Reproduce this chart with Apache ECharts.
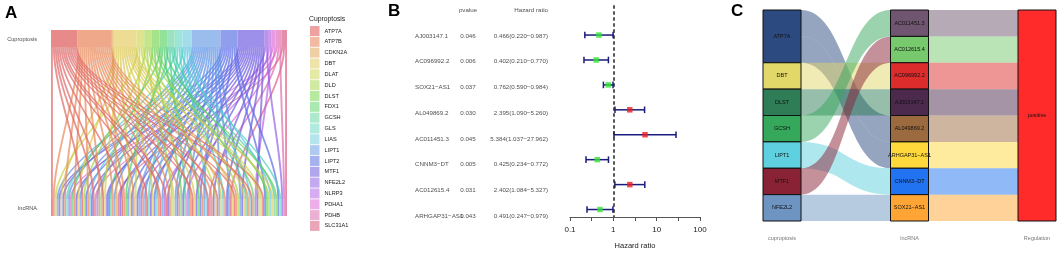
<!DOCTYPE html>
<html><head><meta charset="utf-8">
<script src="https://cdn.jsdelivr.net/npm/echarts@6/dist/echarts.min.js"></script>
<style>html,body{margin:0;padding:0;background:#fff}#c{width:1059px;height:255px}</style>
</head><body><div id="c"></div><script>
// ---------- Panel A data ----------
const cuproGenes = ['ATP7A','ATP7B','CDKN2A','DBT','DLAT','DLD','DLST','FDX1','GCSH','GLS','LIAS','LIPT1','LIPT2','MTF1','NFE2L2','NLRP3','PDHA1','PDHB','SLC31A1'];
const cuproColors = ['#E98A8A','#EFA98A','#EEC390','#ECDC94','#DDE48C','#C4E58A','#A5E38A','#93E29A','#9BE3C0','#9DE5D6','#A3DDE9','#9BBDED','#8F9FEC','#9C90EA','#B494EC','#CE97EC','#E79BE6','#E99CCB','#E58FA7'];
const cuproFlowColors = ['#E06666','#E8895A','#E0A85A','#DCC850','#C5D64A','#A0D64A','#6CD05A','#4ACC6A','#4ACCA0','#4AD0C0','#5AC4E0','#5A90E6','#5A6CE6','#6E5AE0','#9460E6','#B866E6','#E06ADC','#E06AB0','#DC6080'];
// cuproptosis partner of each lncRNA lode, left to right along the lncRNA axis
const lncRNAPartners = [
 'ATP7A','ATP7B','DLAT','LIPT1','MTF1','DBT','LIPT2','ATP7B','GLS','LIPT1','PDHA1','FDX1',
 'ATP7B','MTF1','DBT','LIPT1','ATP7A','DLD','LIPT2','ATP7B','LIAS','MTF1','ATP7A','PDHB',
 'LIPT1','ATP7B','DLST','ATP7A','DBT','MTF1','LIPT2','GCSH','ATP7B','LIPT1','CDKN2A','SLC31A1',
 'MTF1','ATP7A','ATP7B','FDX1','LIPT1','DBT','LIPT2','ATP7B','DLAT','MTF1','LIPT1','NFE2L2',
 'ATP7B','LIPT1','ATP7A','GLS','MTF1','DBT','LIPT2','LIAS','ATP7B','ATP7A','LIPT1','NLRP3',
 'ATP7A','MTF1','ATP7B','DLD','DBT','LIPT1','LIPT2','ATP7B','DLST','MTF1','GCSH','PDHA1',
 'LIPT1','ATP7B','ATP7A','DBT','MTF1','FDX1','LIPT2','ATP7B','LIPT1','LIAS','ATP7A','PDHB',
 'ATP7B','MTF1','DLAT','ATP7A','LIPT1','DBT','GLS','ATP7B','MTF1','LIPT1','SLC31A1','DBT',
 'ATP7A','ATP7B','DLD','LIPT1','MTF1','DBT','GCSH','ATP7B','LIAS','ATP7A','DLST','NLRP3',
 'MTF1','DBT','DLAT','ATP7A','LIPT2','FDX1','DLD','LIAS','DBT','GCSH','DLST','LIPT2','GLS','NFE2L2','PDHB','SLC31A1'
];

// ---------- Panel B data ----------
const forestGenes = ['AJ003147.1','AC096992.2','SOX21\u2212AS1','AL049869.2','AC011451.3','CNNM3\u2212DT','AC012615.4','ARHGAP31\u2212AS1'];
const pValues = ['0.046','0.006','0.037','0.030','0.045','0.005','0.031','0.043'];
const hazardRatio = [0.466,0.402,0.762,2.395,5.384,0.425,2.402,0.491];
const hrLower = [0.220,0.210,0.590,1.090,1.037,0.234,1.084,0.247];
const hrUpper = [0.987,0.770,0.984,5.260,27.962,0.772,5.327,0.979];

// ---------- Panel C data ----------
const sankeyCupro = ['ATP7A','DBT','DLST','GCSH','LIPT1','MTF1','NFE2L2'];
const sankeyCuproColors = ['#2C4A7F','#E2D86A','#2E7D57','#35A85C','#5FD0DF','#8A2235','#6E95C2'];
const sankeyLnc = ['AC011451.3','AC012615.4','AC096992.2','AJ003147.1','AL049869.2','ARHGAP31\u2212AS1','CNNM3\u2212DT','SOX21\u2212AS1'];
const sankeyLncColors = ['#6F5570','#78C96D','#DD2C2C','#4B2A4E','#9B6B3F','#FFD83B','#2173F2','#FFA535'];
const sankeyPairs = [['ATP7A','AL049869.2'],['ATP7A','ARHGAP31\u2212AS1'],['DBT','AC096992.2'],['DLST','AJ003147.1'],['GCSH','AC011451.3'],['LIPT1','CNNM3\u2212DT'],['MTF1','AC012615.4'],['NFE2L2','SOX21\u2212AS1']];
const regulation = ['positive'];
const regulationColors = ['#FF2B2B'];

// ---------- build ----------
const FONT = 'Liberation Sans, Arial, Helvetica, sans-serif';
const colorOf = {}, flowColorOf = {};
cuproGenes.forEach((g,i)=>{colorOf[g]=cuproColors[i]; flowColorOf[g]=cuproFlowColors[i];});

const aNodes = cuproGenes.map((g,i)=>({name:g, itemStyle:{color:cuproColors[i]}}))
  .concat(lncRNAPartners.map((g,i)=>({name:'lncRNA '+(i+1), itemStyle:{color:colorOf[g]}})));
const aLinks = lncRNAPartners.map((g,i)=>({source:g, target:'lncRNA '+(i+1), value:1, lineStyle:{color:flowColorOf[g]}}));

const cNodes = sankeyCupro.map((g,i)=>({name:g, itemStyle:{color:sankeyCuproColors[i]}}))
  .concat(sankeyLnc.map((g,i)=>({name:g, itemStyle:{color:sankeyLncColors[i]}})))
  .concat(regulation.map((g,i)=>({name:g, itemStyle:{color:regulationColors[i]}})));
const cLinks = sankeyPairs.map(p=>({source:p[0], target:p[1], value:1}))
  .concat(sankeyLnc.map(l=>({source:l, target:regulation[0], value:1})));

const TXT = 6.2;
const COL_NAME = 15, COL_P = 68, COL_HR = 148;
const fmt = v => v.toFixed(3);
const hrText = hazardRatio.map((v,i)=>fmt(v)+'('+fmt(hrLower[i])+'\u2212'+fmt(hrUpper[i])+')');

function textSeries(points, align){
  return {type:'scatter', xAxisIndex:2, yAxisIndex:1, symbolSize:0.1, itemStyle:{color:'transparent'},
    silent:true, data:points,
    label:{show:true, position:'inside', align:align, verticalAlign:'middle', fontSize:TXT, fontFamily:FONT, color:'#222',
      formatter:p=>p.value[2]}};
}

const option = {
  animation:false,
  textStyle:{fontFamily:FONT},
  grid:[
    {left:570, width:130, top:5.14, height:218.57},
    {left:400, width:160, top:5.14, height:218.57},
    {left:0, top:0, width:1, height:1, show:false}
  ],
  xAxis:[
    {type:'log', logBase:10, gridIndex:0, min:0.1, max:100, position:'bottom',
     axisLine:{show:true, onZero:false, lineStyle:{color:'#555', width:1}}, axisTick:{show:false}, splitLine:{show:false},
     axisLabel:{fontSize:8, color:'#222', margin:9, fontFamily:FONT},
     name:'Hazard ratio', nameLocation:'middle', nameGap:25, nameTextStyle:{fontSize:7.5, color:'#222', fontFamily:FONT}},
    {type:'value', gridIndex:0, min:-1, max:2, interval:0.5, position:'bottom',
     axisLine:{show:false, onZero:false}, axisTick:{show:true, length:4, lineStyle:{color:'#555'}}, axisLabel:{show:false}, splitLine:{show:false}},
    {type:'value', gridIndex:1, min:0, max:160, show:false},
    {type:'value', gridIndex:2, show:false}
  ],
  yAxis:[
    {type:'value', gridIndex:0, inverse:true, min:-0.2, max:8.3, show:false},
    {type:'value', gridIndex:1, inverse:true, min:-0.2, max:8.3, show:false},
    {type:'value', gridIndex:2, show:false}
  ],
  legend:{orient:'vertical', left:310, top:26, padding:0, itemWidth:9.5, itemHeight:10, itemGap:0.83, icon:'rect',
    selectedMode:false, data:cuproGenes, textStyle:{fontSize:5.6, color:'#222', fontFamily:FONT}},
  graphic:[
    {type:'text', left:5, top:5, style:{text:'A', font:'bold 17px '+FONT, fill:'#000'}},
    {type:'text', left:388, top:3, style:{text:'B', font:'bold 17px '+FONT, fill:'#000'}},
    {type:'text', left:731, top:3, style:{text:'C', font:'bold 17px '+FONT, fill:'#000'}},
    {type:'text', x:37, y:39, style:{text:'Cuproptosis', font:'5.6px '+FONT, fill:'#4D4D4D', align:'right', verticalAlign:'middle'}},
    {type:'text', x:37, y:208, style:{text:'lncRNA', font:'5.6px '+FONT, fill:'#4D4D4D', align:'right', verticalAlign:'middle'}},
    {type:'text', x:309, y:19, style:{text:'Cuproptosis', font:'6.8px '+FONT, fill:'#222', align:'left', verticalAlign:'middle'}},
    {type:'text', x:782, y:238, style:{text:'cuproptosis', font:'5.5px '+FONT, fill:'#777', align:'center', verticalAlign:'middle'}},
    {type:'text', x:909.5, y:238, style:{text:'lncRNA', font:'5.5px '+FONT, fill:'#777', align:'center', verticalAlign:'middle'}},
    {type:'text', x:1037, y:238, style:{text:'Regulation', font:'5.5px '+FONT, fill:'#777', align:'center', verticalAlign:'middle'}}
  ],
  series:[
    {type:'sankey', orient:'vertical', left:51, right:772, top:30, bottom:39, nodeWidth:17, nodeGap:0,
     layoutIterations:0, draggable:false, silent:true, emphasis:{disabled:true},
     label:{show:false}, itemStyle:{borderWidth:0},
     lineStyle:{opacity:0.7, curveness:0.3},
     data:aNodes, links:aLinks},
    {type:'sankey', orient:'horizontal', left:763, right:3, top:10, bottom:34, nodeWidth:38, nodeGap:0,
     layoutIterations:0, draggable:false, silent:true, emphasis:{disabled:true},
     label:{show:true, position:'inside', fontSize:5.5, color:'#111', fontFamily:FONT},
     itemStyle:{borderColor:'#111', borderWidth:1},
     lineStyle:{color:'source', opacity:0.5, curveness:0.5},
     data:cNodes, links:cLinks},
    {type:'custom', xAxisIndex:0, yAxisIndex:0, silent:true,
     data:hrLower.map((lo,i)=>[lo, hrUpper[i], i+1]),
     encode:{x:[0,1], y:2},
     renderItem:(params, api)=>{
       const y = api.value(2);
       const p1 = api.coord([api.value(0), y]);
       const p2 = api.coord([api.value(1), y]);
       const h = 3.3;
       const style = {stroke:'#1B1B7E', lineWidth:1.5, fill:null};
       return {type:'group', children:[
         {type:'line', shape:{x1:p1[0],y1:p1[1],x2:p2[0],y2:p2[1]}, style:style},
         {type:'line', shape:{x1:p1[0],y1:p1[1]-h,x2:p1[0],y2:p1[1]+h}, style:style},
         {type:'line', shape:{x1:p2[0],y1:p2[1]-h,x2:p2[0],y2:p2[1]+h}, style:style}
       ]};
     }},
    {type:'scatter', xAxisIndex:0, yAxisIndex:0, symbol:'rect', symbolSize:5.5, silent:true,
     data:hazardRatio.map((v,i)=>({value:[v,i+1], itemStyle:{color: v<1 ? '#33E633' : '#EE1D1D'}})),
     markLine:{silent:true, symbol:'none', label:{show:false},
       lineStyle:{color:'#222', width:1.5, type:[3.5,2.5]}, data:[{xAxis:1}]}},
    textSeries(forestGenes.map((n,i)=>[COL_NAME, i+1, n]), 'left'),
    textSeries(pValues.map((p,i)=>[COL_P, i+1, p]).concat([[COL_P, 0, 'pvalue']]), 'center'),
    textSeries(hrText.map((t,i)=>[COL_HR, i+1, t]).concat([[COL_HR, 0, 'Hazard ratio']]), 'right')
  ].concat(cuproGenes.map((g,i)=>({name:g, type:'scatter', xAxisIndex:3, yAxisIndex:2, data:[], itemStyle:{color:cuproColors[i]}})))
};

const chart = echarts.init(document.getElementById('c'), null, {renderer:'canvas'});
chart.setOption(option);
</script></body></html>
